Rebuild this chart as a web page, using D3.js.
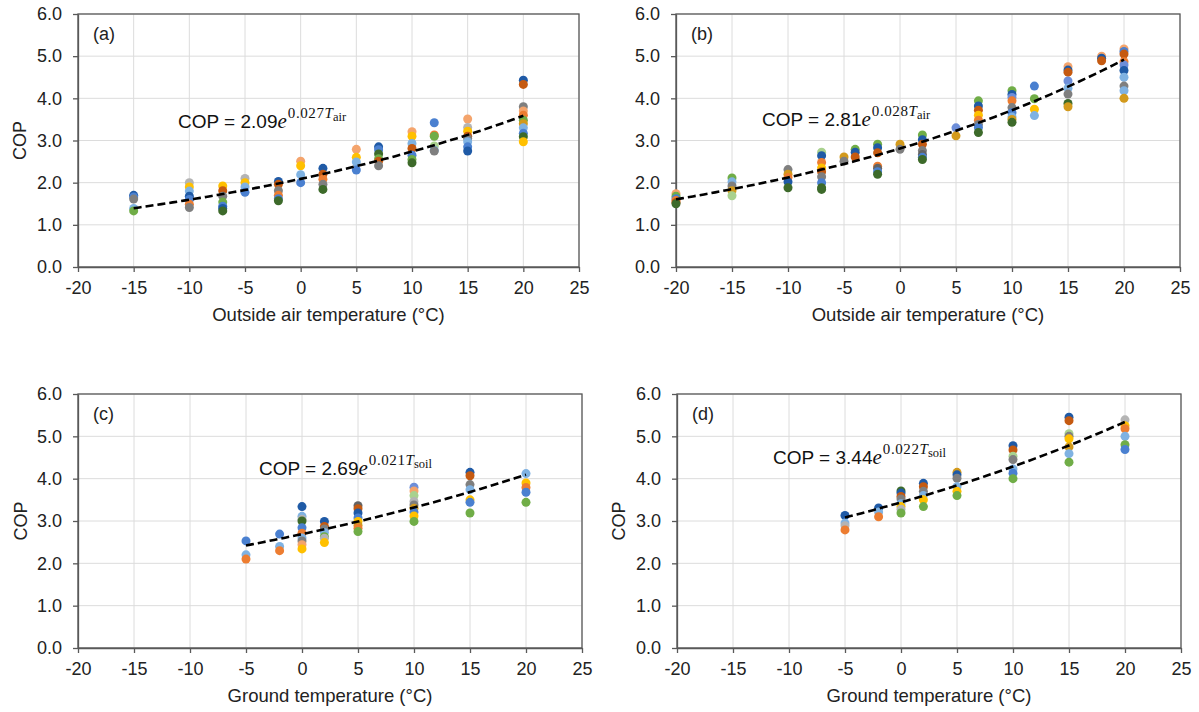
<!DOCTYPE html>
<html>
<head>
<meta charset="utf-8">
<script src="https://cdn.jsdelivr.net/npm/d3@7"></script>
<style>
  body { margin: 0; background: #fff; }
  svg { display: block; font-family: "Liberation Sans", Arial, sans-serif; }
</style>
</head>
<body>
<svg id="chart" width="1199" height="712"></svg>
<script>
// heat pump ids -> colour, like the Excel palette of the figure
const hpIds = ["HP1","HP2","HP3","HP4","HP5","HP6","HP7","HP8","HP9","HP10","HP11","HP12","HP13","HP14","HP15"];
const hpColors = ["#1f5aa6","#c55a11","#f4a46c","#ffc000","#7fb2e2","#4a80d0","#70ad47","#3d6a2a",
                  "#7f7f7f","#b4b4b4","#ed7d31","#d39a1c","#a9d18e","#636363","#6d8ed9"];

const xTicks = [-20, -15, -10, -5, 0, 5, 10, 15, 20, 25];
const yTicks = [0, 1, 2, 3, 4, 5, 6];

// (a) outside air temperature
const tempA = [-15, -10, -7, -5, -2, 0, 2, 5, 7, 10, 12, 15, 20];
const copA = [
  [1.70, 1.66, 1.61, 1.39, 1.33],
  [2.00, 1.90, 1.80, 1.68, 1.60, 1.49, 1.41],
  [1.92, 1.81, 1.68, 1.54, 1.44, 1.39, 1.33],
  [2.10, 2.00, 1.90, 1.77],
  [2.03, 1.96, 1.81, 1.70, 1.62, 1.57],
  [2.51, 2.40, 2.19, 2.00],
  [2.34, 2.20, 2.08, 1.96, 1.84],
  [2.79, 2.60, 2.49, 2.30],
  [2.85, 2.78, 2.68, 2.57, 2.51, 2.40],
  [3.21, 3.10, 2.93, 2.81, 2.65, 2.55, 2.47],
  [3.42, 3.13, 3.10, 2.87, 2.77, 2.75],
  [3.51, 3.31, 3.22, 3.10, 3.05, 2.97, 2.85, 2.75],
  [4.43, 4.33, 3.80, 3.70, 3.60, 3.48, 3.40, 3.30, 3.17, 3.09, 2.97]
];
const hpA = [
  [1, 6, 9, 5, 7],
  [10, 4, 5, 1, 6, 11, 9],
  [4, 2, 9, 7, 6, 1, 8],
  [10, 4, 5, 6],
  [1, 2, 9, 11, 6, 8],
  [3, 4, 5, 6],
  [1, 2, 11, 9, 8],
  [3, 4, 5, 6],
  [1, 6, 8, 7, 2, 9],
  [3, 4, 5, 2, 6, 7, 8],
  [6, 11, 7, 13, 5, 9],
  [3, 10, 4, 2, 9, 5, 6, 1],
  [1, 2, 9, 3, 11, 7, 12, 5, 6, 8, 4]
];

// (b) outside air temperature
const tempB = [-20, -15, -10, -7, -5, -4, -2, 0, 2, 5, 7, 10, 12, 15, 18, 20];
const copB = [
  [1.74, 1.68, 1.62, 1.58, 1.53, 1.50],
  [2.11, 2.02, 1.92, 1.81, 1.69],
  [2.31, 2.20, 2.12, 2.02, 1.88],
  [2.72, 2.64, 2.48, 2.35, 2.26, 2.14, 2.00, 1.88, 1.84],
  [2.61, 2.51],
  [2.79, 2.72, 2.61],
  [2.91, 2.83, 2.71, 2.39, 2.34, 2.26, 2.20],
  [2.91, 2.79],
  [3.13, 3.02, 2.91, 2.76, 2.67, 2.60, 2.55],
  [3.30, 3.11],
  [3.94, 3.82, 3.72, 3.60, 3.48, 3.38, 3.31, 3.19],
  [4.18, 4.09, 4.02, 3.94, 3.78, 3.66, 3.56, 3.50, 3.43],
  [4.29, 3.99, 3.74, 3.59],
  [4.75, 4.67, 4.62, 4.41, 4.24, 4.10, 3.88, 3.80],
  [5.00, 4.95, 4.89],
  [5.17, 5.11, 5.05, 4.87, 4.79, 4.66, 4.50, 4.29, 4.18, 4.00]
];
const hpB = [
  [3, 7, 6, 11, 2, 8],
  [7, 5, 9, 12, 13],
  [9, 12, 11, 1, 8],
  [13, 1, 11, 4, 2, 9, 6, 8, 8],
  [12, 9],
  [7, 1, 2],
  [7, 1, 2, 11, 14, 6, 8],
  [12, 9],
  [7, 1, 2, 9, 14, 6, 8],
  [15, 12],
  [7, 1, 2, 4, 11, 9, 6, 8],
  [7, 1, 15, 11, 9, 6, 5, 12, 8],
  [6, 7, 4, 5],
  [3, 1, 2, 15, 5, 9, 8, 12],
  [3, 1, 2],
  [3, 6, 2, 11, 15, 1, 5, 9, 5, 12]
];

// (c) ground temperature
const tempC = [-5, -2, 0, 2, 5, 10, 15, 20];
const copC = [
  [2.53, 2.20, 2.10],
  [2.69, 2.40, 2.30],
  [3.34, 3.11, 3.04, 3.00, 2.84, 2.71, 2.60, 2.53, 2.44, 2.34],
  [2.99, 2.87, 2.81, 2.73, 2.63, 2.59, 2.49],
  [3.36, 3.29, 3.19, 3.07, 2.99, 2.90, 2.83, 2.75],
  [3.80, 3.71, 3.60, 3.46, 3.38, 3.30, 3.21, 3.12, 2.99],
  [4.15, 4.07, 3.86, 3.74, 3.50, 3.44, 3.19],
  [4.12, 3.90, 3.79, 3.68, 3.44]
];
const hpC = [
  [6, 5, 11],
  [6, 5, 11],
  [1, 5, 10, 8, 6, 11, 5, 9, 3, 4],
  [1, 2, 9, 5, 7, 10, 4],
  [14, 2, 1, 6, 4, 12, 11, 7],
  [15, 3, 13, 10, 9, 12, 6, 4, 7],
  [1, 2, 9, 5, 4, 6, 7],
  [5, 4, 11, 6, 7]
];

// (d) ground temperature
const tempD = [-5, -2, 0, 2, 5, 10, 15, 20];
const copD = [
  [3.13, 2.95, 2.89, 2.79],
  [3.31, 3.21, 3.10],
  [3.71, 3.66, 3.58, 3.52, 3.41, 3.34, 3.28, 3.19],
  [3.89, 3.81, 3.70, 3.60, 3.50, 3.34],
  [4.15, 4.09, 4.01, 3.81, 3.70, 3.60],
  [4.78, 4.68, 4.53, 4.45, 4.23, 4.13, 4.00],
  [5.45, 5.37, 5.06, 5.00, 4.94, 4.75, 4.59, 4.39],
  [5.39, 5.25, 5.18, 5.00, 4.80, 4.69]
];
const hpD = [
  [1, 5, 10, 11],
  [1, 5, 11],
  [8, 1, 2, 9, 5, 4, 10, 7],
  [1, 2, 9, 5, 4, 7],
  [12, 1, 9, 5, 4, 7],
  [1, 2, 13, 9, 5, 6, 7],
  [1, 2, 13, 9, 4, 12, 5, 7],
  [10, 4, 11, 5, 7, 6]
];

// exponential trend lines COP = a * e^(b*T)
const fitA = [2.09, 2.81, 2.69, 3.44];
const fitB = [0.027, 0.028, 0.021, 0.022];
const fitFrom = [-15, -20, -5, -5];
const fitTo = [20, 20, 20, 20];
const fitSub = ["air", "air", "soil", "soil"];

const panelTags = ["(a)", "(b)", "(c)", "(d)"];
const xTitles = ["Outside air temperature (°C)", "Outside air temperature (°C)",
                 "Ground temperature (°C)", "Ground temperature (°C)"];

const color = d3.scaleOrdinal().domain(hpIds).range(hpColors);
const serif = "'Liberation Serif', 'DejaVu Serif', serif";

// layout of the four plot areas
const panels = [
  { x0: 78,  x1: 579,  y0: 14,  y1: 267, ylab: 20,  eqX: 178, eqY: 128, temps: tempA, cops: copA, hps: hpA },
  { x0: 676, x1: 1180, y0: 14,  y1: 267, ylab: null, eqX: 762, eqY: 126, temps: tempB, cops: copB, hps: hpB },
  { x0: 78,  x1: 582,  y0: 394, y1: 648, ylab: 21,  eqX: 259, eqY: 475, temps: tempC, cops: copC, hps: hpC },
  { x0: 677, x1: 1181, y0: 394, y1: 648, ylab: 619, eqX: 773, eqY: 464, temps: tempD, cops: copD, hps: hpD }
];

const svg = d3.select("#chart");

panels.forEach((p, i) => {
  const x = d3.scaleLinear().domain([-20, 25]).range([p.x0, p.x1]);
  const y = d3.scaleLinear().domain([0, 6]).range([p.y1, p.y0]);
  const g = svg.append("g");

  // gridlines
  g.append("g").selectAll("line").data(xTicks).join("line")
    .attr("x1", d => x(d)).attr("x2", d => x(d))
    .attr("y1", p.y0).attr("y2", p.y1)
    .attr("stroke", "#dcdcdc").attr("stroke-width", 1);
  g.append("g").selectAll("line").data(yTicks).join("line")
    .attr("x1", p.x0).attr("x2", p.x1)
    .attr("y1", d => y(d)).attr("y2", d => y(d))
    .attr("stroke", "#dcdcdc").attr("stroke-width", 1);

  // border of the plot area
  g.append("rect")
    .attr("x", p.x0).attr("y", p.y0)
    .attr("width", p.x1 - p.x0).attr("height", p.y1 - p.y0)
    .attr("fill", "none").attr("stroke", "#595959").attr("stroke-width", 1.3);

  // axes (plain hyphen for negatives, as in the figure)
  const xAxis = g.append("g")
    .attr("transform", `translate(0,${p.y1})`)
    .call(d3.axisBottom(x).tickValues(xTicks).tickFormat(d => String(d))
      .tickSize(5).tickPadding(9).tickSizeOuter(0));
  const yAxis = g.append("g")
    .attr("transform", `translate(${p.x0},0)`)
    .call(d3.axisLeft(y).tickValues(yTicks).tickFormat(d => d.toFixed(1))
      .tickSize(5).tickPadding(11).tickSizeOuter(0));
  [xAxis, yAxis].forEach(a => {
    a.select(".domain").attr("stroke", "#595959").attr("stroke-width", 1.3);
    a.selectAll(".tick line").attr("stroke", "#595959").attr("stroke-width", 1.3);
    a.selectAll(".tick text").attr("fill", "#222").style("font-size", "18px")
      .style("font-family", "'Liberation Sans', Arial, sans-serif");
  });

  // points
  const pts = [];
  p.temps.forEach((t, k) => {
    p.cops[k].forEach((c, j) => pts.push({ t: t, cop: c, hp: "HP" + p.hps[k][j] }));
  });
  g.append("g").selectAll("circle").data(pts).join("circle")
    .attr("cx", d => x(d.t)).attr("cy", d => y(d.cop))
    .attr("r", 4.5)
    .attr("fill", d => color(d.hp));

  // trend line
  const ts = d3.range(fitFrom[i], fitTo[i] + 0.001, 0.5);
  const line = d3.line().x(d => x(d)).y(d => y(fitA[i] * Math.exp(fitB[i] * d)));
  g.append("path").datum(ts)
    .attr("d", line)
    .attr("fill", "none").attr("stroke", "#000")
    .attr("stroke-width", 2.6).attr("stroke-dasharray", "8,4");

  // panel tag
  g.append("text").attr("x", p.x0 + 15).attr("y", p.y0 + 26)
    .attr("fill", "#222").style("font-size", "18px").text(panelTags[i]);

  // equation
  const eq = g.append("text").attr("x", p.eqX).attr("y", p.eqY).attr("fill", "#111");
  eq.append("tspan").style("font-size", "19px").text("COP = " + fitA[i].toFixed(2));
  eq.append("tspan").style("font-size", "21px").style("font-style", "italic")
    .style("font-family", serif).text("e");
  eq.append("tspan").attr("dy", -10).attr("dx", 1).style("font-size", "15px")
    .style("letter-spacing", "0.6px").style("font-family", serif).text(fitB[i].toFixed(3));
  eq.append("tspan").style("font-size", "15px").style("font-style", "italic")
    .style("font-family", serif).text("T");
  eq.append("tspan").attr("dy", 3).style("font-size", "12.5px")
    .style("font-family", serif).text(fitSub[i]);

  // axis titles
  g.append("text").attr("x", (p.x0 + p.x1) / 2).attr("y", p.y1 + 54)
    .attr("text-anchor", "middle").attr("fill", "#222").style("font-size", "18.5px")
    .text(xTitles[i]);
  if (p.ylab !== null) {
    g.append("text")
      .attr("transform", `translate(${p.ylab + 6},${(p.y0 + p.y1) / 2}) rotate(-90)`)
      .attr("text-anchor", "middle").attr("fill", "#222").style("font-size", "18px")
      .text("COP");
  }
});
</script>
</body>
</html>
